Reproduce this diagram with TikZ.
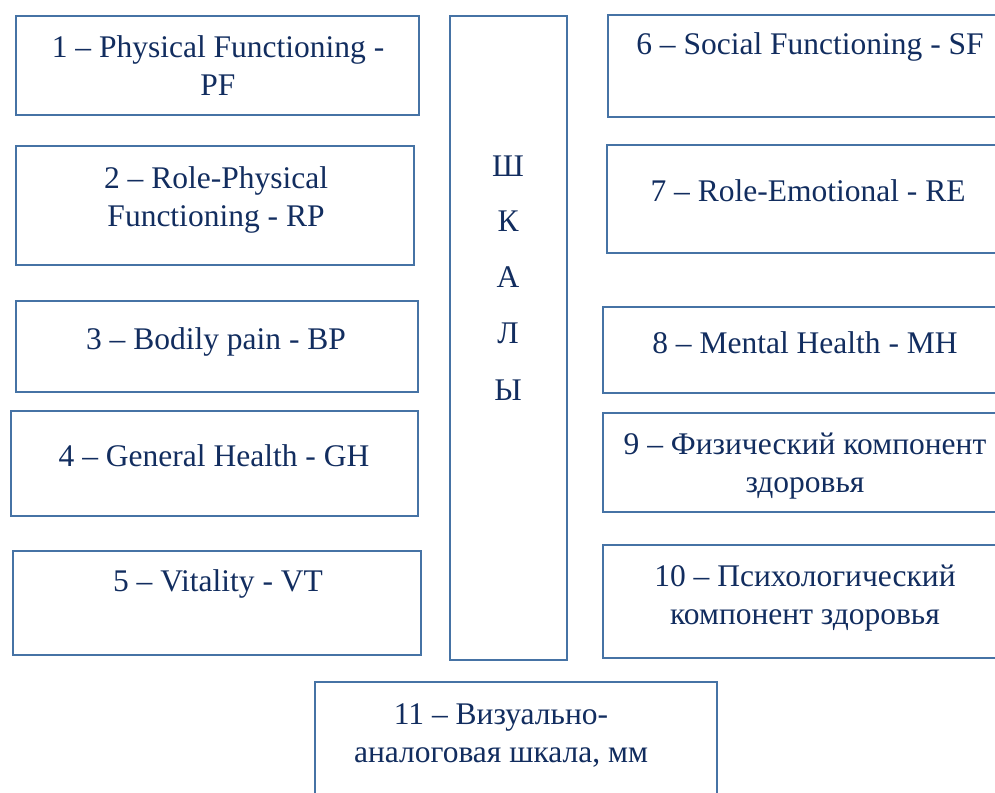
\documentclass[tikz,border=0pt]{standalone}
\usepackage{fontspec}
\setmainfont{Liberation Serif}
\definecolor{boxline}{RGB}{70,115,165}
\definecolor{txtcol}{RGB}{18,45,95}
\begin{document}
\begin{tikzpicture}[x=1pt,y=-1pt,
  box/.style={draw=boxline,line width=2.8pt,fill=white,rectangle,inner sep=0pt},
  lbl/.style={text=txtcol,font=\fontsize{31.5}{38}\selectfont,align=center,inner sep=0pt,anchor=base}]
\useasboundingbox (0,0) rectangle (995,792);
\clip (0,0) rectangle (995,792);
% left column
\node[box,minimum width=403pt,minimum height=99pt] (b1) at (217.5,65.5) {};
\node[box,minimum width=398pt,minimum height=119pt] (b2) at (215,205.5) {};
\node[box,minimum width=402pt,minimum height=91pt] (b3) at (217,346.5) {};
\node[box,minimum width=407pt,minimum height=105pt] (b4) at (214.5,463.5) {};
\node[box,minimum width=408pt,minimum height=104pt] (b5) at (217,603) {};
% centre column
\node[box,minimum width=117pt,minimum height=644pt] (sc) at (508.5,338) {};
% right column
\node[box,minimum width=402pt,minimum height=102pt] (b6) at (809,66) {};
\node[box,minimum width=403pt,minimum height=108pt] (b7) at (808.5,199) {};
\node[box,minimum width=407pt,minimum height=86pt] (b8) at (806.5,350) {};
\node[box,minimum width=407pt,minimum height=99pt] (b9) at (806.5,462.5) {};
\node[box,minimum width=407pt,minimum height=113pt] (b10) at (806.5,601.5) {};
% bottom
\node[box,minimum width=402pt,minimum height=118pt] (b11) at (516,741) {};
% texts (base = last line baseline)
\node[lbl] (t1) at (218,95) {1 – Physical Functioning -\\PF};
\node[lbl] (t2) at (216,226) {2 – Role-Physical\\Functioning - RP};
\node[lbl] (t3) at (216,349) {3 – Bodily pain - BP};
\node[lbl] (t4) at (214,466) {4 – General Health - GH};
\node[lbl] (t5) at (218,591) {5 – Vitality - VT};
\node[lbl] (t6) at (810,55) {6 – Social Functioning - SF};
\node[lbl] (t7) at (808,201) {7 – Role-Emotional - RE};
\node[lbl] (t8) at (805,353) {8 – Mental Health - MH};
\node[lbl] (t9) at (805,492) {9 – Физический компонент\\здоровья};
\node[lbl] (t10) at (805,624) {10 – Психологический\\компонент здоровья};
\node[lbl] (t11) at (501,762) {11 – Визуально-\\аналоговая шкала, мм};
\node[lbl] (s1) at (508,176) {Ш};
\node[lbl] (s2) at (508,231) {К};
\node[lbl] (s3) at (508,287) {А};
\node[lbl] (s4) at (508,343) {Л};
\node[lbl] (s5) at (508,400) {Ы};
\end{tikzpicture}
\end{document}
